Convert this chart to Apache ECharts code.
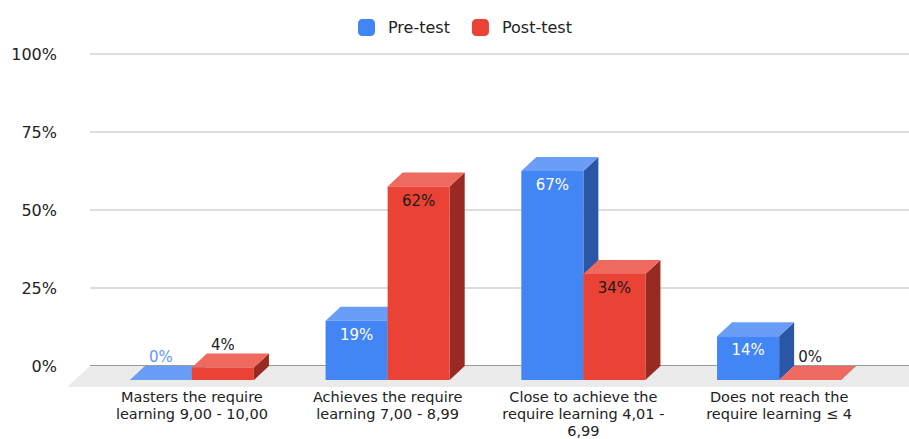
<!DOCTYPE html>
<html><head><meta charset="utf-8">
<script src="https://cdn.jsdelivr.net/npm/echarts@6/dist/echarts.min.js"></script>
<style>html,body{margin:0;padding:0;background:#fff}#c{width:909px;height:439px}</style>
</head><body><div id="c"></div>
<script>
const categories = [
  'Masters the require\nlearning 9,00 - 10,00',
  'Achieves the require\nlearning 7,00 - 8,99',
  'Close to achieve the\nrequire learning 4,01 -\n6,99',
  'Does not reach the\nrequire learning \u2264 4'
];
const seriesNames = ['Pre-test', 'Post-test'];
const preTest = [0, 19, 67, 14];
const postTest = [4, 62, 34, 0];
const yTicks = [0, 25, 50, 75, 100];

const DX = 15, DY = 14;
const FONT = 'DejaVu Sans';
const pal = {
  pre:  {front:'#4285F4', top:'#6A9EF6', side:'#2B56A6', inLabel:'#ffffff', outLabel:'#5E97F6'},
  post: {front:'#EA4335', top:'#EE695E', side:'#982A22', inLabel:'#1a1a1a', outLabel:'#222222'}
};

function barRenderer(p, side) {
  return function (params, api) {
    const idx = api.value(0), v = api.value(1);
    const base = api.coord([idx, 0]);
    const tp = api.coord([idx, v]);
    const band = api.size([1, 0])[0];
    const w = band * 0.317;
    const x0 = side < 0 ? base[0] - w : base[0];
    const x1 = x0 + w;
    const yb = base[1], yt = tp[1];
    const ch = [];
    ch.push({type:'polygon', shape:{points:[[x1,yt],[x1+DX,yt-DY],[x1+DX,yb-DY],[x1,yb]]}, style:{fill:p.side}});
    ch.push({type:'polygon', shape:{points:[[x0,yt],[x0+DX,yt-DY],[x1+DX,yt-DY],[x1,yt]]}, style:{fill:p.top}});
    if (yb - yt > 0.5) ch.push({type:'rect', shape:{x:x0, y:yt, width:w, height:yb-yt}, style:{fill:p.front}});
    const inside = (yb - yt) > 30;
    ch.push({type:'text', style:{
      text: v + '%', x: (x0 + x1) / 2, y: inside ? yt + 14 : yt - DY - 9,
      align:'center', verticalAlign:'middle',
      fill: inside ? p.inLabel : p.outLabel, font: '15px "' + FONT + '"'
    }});
    return {type:'group', children: ch};
  };
}

function floorRenderer(params, api) {
  const cs = params.coordSys;
  const y0 = api.coord([0, 0])[1];
  const depthY = 21, depthX = 23;
  return {type:'polygon', shape:{points:[
    [cs.x, y0], [cs.x + cs.width + depthX, y0],
    [cs.x + cs.width, y0 + depthY], [cs.x - depthX, y0 + depthY]
  ]}, style:{fill:'#EBEBEB'}};
}

const chart = echarts.init(document.getElementById('c'), null, {renderer:'svg'});
chart.setOption({
  backgroundColor:'#fff',
  animation:false,
  textStyle:{fontFamily:FONT},
  legend:{
    data: seriesNames, top: 14, left: 353,
    icon:'roundRect', itemWidth:17, itemHeight:17, itemGap:22,
    textStyle:{fontSize:16, color:'#222', fontFamily:FONT, padding:[0,0,0,8]}
  },
  grid:[
    {left:94, right:32, top:68, bottom:59},
    {left:90, right:0, top:54, bottom:73}
  ],
  xAxis:[
    {type:'category', gridIndex:0, data:categories, axisLine:{show:false}, axisTick:{show:false},
     splitLine:{show:false},
     axisLabel:{interval:0, margin:8, color:'#222', fontSize:14.5, lineHeight:17, fontFamily:FONT}},
    {type:'value', gridIndex:1, min:0, max:1, show:false}
  ],
  yAxis:[
    {type:'value', gridIndex:0, min:0, max:100, show:false},
    {type:'value', gridIndex:1, min:yTicks[0], max:yTicks[yTicks.length-1], interval:25,
     axisLine:{show:false}, axisTick:{show:false},
     axisLabel:{formatter:'{value}%', margin:33, color:'#222', fontSize:16, fontFamily:FONT},
     splitLine:{lineStyle:{color:['#9A9A9A','#DDDDDD','#DDDDDD','#DDDDDD','#DDDDDD'], width:2}}}
  ],
  series:[
    {type:'custom', name:'floor', xAxisIndex:1, yAxisIndex:1, z:0, silent:true,
     renderItem: floorRenderer, data:[[0,0]]},
    {type:'custom', name:seriesNames[0], xAxisIndex:0, yAxisIndex:0, z:3,
     itemStyle:{color:pal.pre.front},
     renderItem: barRenderer(pal.pre, -1), data: preTest.map((v,i)=>[i,v])},
    {type:'custom', name:seriesNames[1], xAxisIndex:0, yAxisIndex:0, z:4,
     itemStyle:{color:pal.post.front},
     renderItem: barRenderer(pal.post, 1), data: postTest.map((v,i)=>[i,v])}
  ]
});
</script>
</body></html>
